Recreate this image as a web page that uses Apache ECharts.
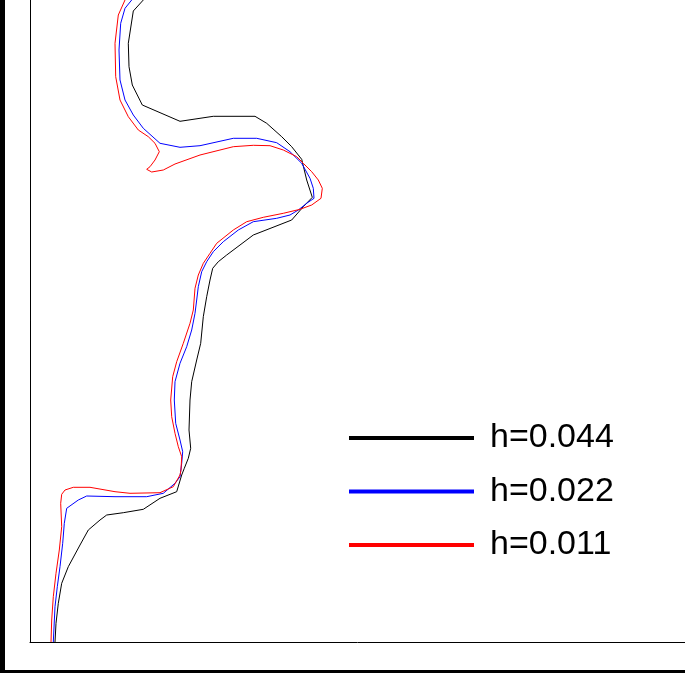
<!DOCTYPE html>
<html>
<head>
<meta charset="utf-8">
<style>
    html, body { margin: 0; padding: 0; background: #fff; }
    #main { width: 685px; height: 673px; }
</style>
</head>
<body>
<div id="main"></div>
<script src="https://cdn.jsdelivr.net/npm/echarts@6/dist/echarts.min.js"></script>
<script type="text/javascript">
    // 曲线数据 [x, y]，按图中读取（从框左下角起算）
    var names = ['h=0.044', 'h=0.022', 'h=0.011'];
    var colors = ['#000000', '#0000ff', '#ff0000'];

    var curveH044 = [
        [113.3, 642], [103.3, 631], [98.3, 598.7], [99, 575.3], [102.3, 557], [112.3, 537],
        [150, 520.7], [183.3, 525.7], [225, 525.7], [236.7, 518.7], [251.7, 505.3], [261.7, 495.3],
        [271.7, 482.7], [276.7, 462], [282.3, 444.7], [273.3, 435.3], [261.7, 422], [223.3, 407],
        [210, 397], [196.7, 387], [188.3, 380.3], [182.7, 373.7], [180, 362], [176.7, 345.3],
        [173.3, 325.3], [170.7, 298.7], [166.7, 282], [161.7, 260.3], [160, 242], [159, 212],
        [160.7, 193.7], [158.3, 183.7], [154.3, 173.7], [151.7, 167], [146.7, 150.3], [130, 143.7],
        [113.3, 132.7], [93.3, 129.3], [76.7, 127], [70, 122], [58.3, 112], [50, 97],
        [38.3, 75.3], [31.7, 58.7], [28.3, 38.7], [26, 18.7], [25, 0]
    ];
    var curveH022 = [
        [101.7, 642], [95, 633.7], [90.7, 618.7], [89, 592], [90, 562], [95, 542],
        [103.3, 527], [113.3, 513.7], [130, 498.7], [150, 494.7], [170, 496.3], [203.3, 503.7],
        [226.7, 503.7], [246.7, 499.3], [260, 490.3], [271.7, 478.7], [280, 463.7], [283.3, 453.7],
        [284, 443.7], [276.7, 438.7], [268.3, 432], [260, 427], [246.7, 423.7], [223.3, 420.3],
        [208.3, 412], [193.3, 400.3], [183.3, 390.3], [176.7, 380.3], [171.7, 370.3], [168.3, 355.3],
        [166.7, 342], [165, 328.7], [161.7, 312], [156.7, 295.3], [150, 278.7], [145, 260.3],
        [144.3, 242], [145.7, 218.7], [150, 202], [152.7, 190.3], [151.7, 178.7], [150, 165.3],
        [145, 158.7], [133.3, 148.7], [116.7, 145.3], [85, 145.3], [56.7, 146], [48.3, 142],
        [36.7, 133.7], [34.3, 118.7], [32.7, 98.7], [30, 75.3], [27.3, 55.3], [25, 35.3], [23.3, 0]
    ];
    var curveH011 = [
        [95, 642], [88.3, 627], [85, 598.7], [85.7, 565.3], [90, 542], [98.3, 525.3],
        [108.3, 512], [118.3, 505.3], [125, 498.7], [129.3, 490.3], [125, 482], [120, 475.3],
        [116.7, 472.7], [121.7, 470], [133.3, 472], [145, 478], [170, 487], [203.3, 495.3],
        [223.3, 496.7], [240, 496.3], [253.3, 492], [266.7, 485.3], [273.3, 478.7], [281.7, 470.3],
        [288.3, 462], [292.3, 453.7], [291, 443.7], [281.7, 437], [270, 432.7], [253.3, 428.7],
        [233.3, 424.7], [216.7, 420.3], [203.3, 412], [186.7, 398.7], [180, 388.7], [173.3, 378.7],
        [168.3, 367], [165, 353.7], [163.3, 332], [160, 318.7], [153.3, 298.7], [146.7, 280.3],
        [142.7, 265.3], [140.7, 242], [141.7, 225.3], [145, 208.7], [148.3, 195.3], [151.7, 185.3],
        [151, 172], [150, 167], [143.3, 155.3], [130, 149.3], [100, 148.7], [85, 150.3],
        [60, 154.7], [43.3, 154.7], [35, 152], [31.7, 147.7], [30.7, 138.7], [31.7, 115.3],
        [29.3, 92], [26, 68.7], [23.3, 45.3], [21.7, 22], [21, 0]
    ];
    var curves = [curveH044, curveH022, curveH011];

    var myChart = echarts.init(document.getElementById('main'));

    var series = [];
    for (var i = 0; i < names.length; i++) {
        series.push({
            name: names[i],
            type: 'line',
            data: curves[i],
            showSymbol: false,
            symbol: 'none',
            smooth: false,
            clip: true,
            color: colors[i],
            lineStyle: { color: colors[i], width: 1 }
        });
    }

    var option = {
        backgroundColor: '#ffffff',
        animation: false,
        grid: { left: 30, right: 0, top: 0, bottom: 31, containLabel: false },
        xAxis: {
            type: 'value', min: 0, max: 655,
            axisLine: { show: true, onZero: false, lineStyle: { color: '#000', width: 1 } },
            axisTick: { show: false }, axisLabel: { show: false }, splitLine: { show: false }
        },
        yAxis: {
            type: 'value', min: 0, max: 642,
            axisLine: { show: true, onZero: false, lineStyle: { color: '#000', width: 1 } },
            axisTick: { show: false }, axisLabel: { show: false }, splitLine: { show: false }
        },
        legend: {
            orient: 'vertical',
            left: 344,
            top: 413,
            icon: 'rect',
            itemWidth: 125,
            itemHeight: 4,
            itemGap: 13.5,
            data: names,
            textStyle: {
                fontFamily: 'Liberation Sans, Arial, sans-serif',
                fontSize: 34,
                lineHeight: 40,
                color: '#000',
                padding: [0, 0, 0, 11]
            }
        },
        graphic: [
            { type: 'rect', left: 0, top: 0, shape: { width: 5, height: 673 }, style: { fill: '#000' } },
            { type: 'rect', left: 0, top: 670, shape: { width: 685, height: 3 }, style: { fill: '#000' } }
        ],
        series: series
    };

    myChart.setOption(option);
</script>
</body>
</html>
